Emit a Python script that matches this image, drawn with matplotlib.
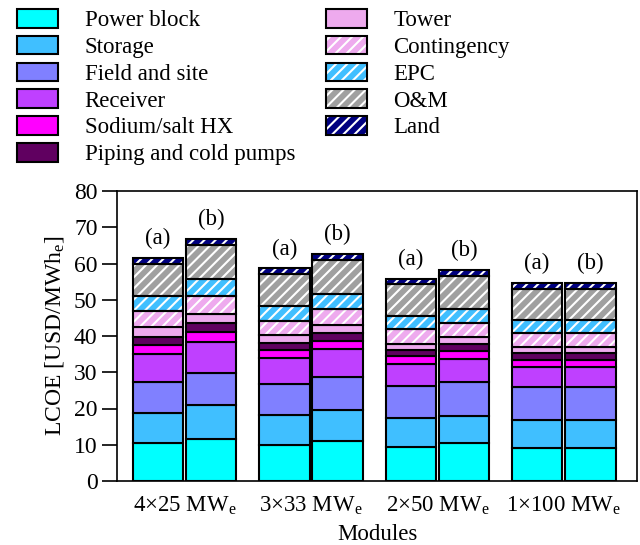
import matplotlib
matplotlib.use("Agg")
import matplotlib.pyplot as plt
from matplotlib.patches import Patch
import numpy as np

plt.rcParams['font.family'] = ['Liberation Serif', 'DejaVu Serif']
plt.rcParams['mathtext.fontset'] = 'custom'
plt.rcParams['mathtext.rm'] = 'Liberation Serif'
plt.rcParams['mathtext.it'] = 'Liberation Serif:italic'
plt.rcParams['hatch.linewidth'] = 1.5

groups = ['4×25 MW$_\\mathrm{e}$', '3×33 MW$_\\mathrm{e}$',
          '2×50 MW$_\\mathrm{e}$', '1×100 MW$_\\mathrm{e}$']
cases = ['(a)', '(b)']

# LCOE contributions [USD/MWh_e], order: (a), (b) for each module configuration
power_block = [10.5, 11.7, 9.9, 11.1, 9.5, 10.4, 9.1, 9.1]
storage     = [8.3, 9.2, 8.4, 8.4, 8.0, 7.5, 7.8, 7.8]
field_site  = [8.4, 8.9, 8.4, 9.1, 8.8, 9.3, 9.1, 9.1]
receiver    = [7.9, 8.6, 7.2, 7.7, 6.0, 6.4, 5.5, 5.5]
sodium_hx   = [2.4, 2.6, 2.3, 2.4, 2.1, 2.4, 2.0, 2.0]
piping      = [2.3, 2.5, 2.0, 2.2, 1.7, 1.7, 1.8, 1.8]
tower       = [2.7, 2.7, 2.0, 2.1, 1.8, 2.0, 1.7, 1.7]
contingency = [4.3, 4.9, 4.0, 4.5, 3.9, 3.9, 3.7, 3.7]
epc         = [4.1, 4.5, 4.0, 4.0, 3.6, 3.9, 3.7, 3.7]
om          = [8.9, 9.4, 8.8, 9.4, 8.9, 9.1, 8.7, 8.7]
land        = [1.8, 1.8, 1.7, 1.8, 1.5, 1.7, 1.6, 1.6]

components = [
    ('Power block', power_block, '#00FFFF', None),
    ('Storage', storage, '#40BFFF', None),
    ('Field and site', field_site, '#8080FF', None),
    ('Receiver', receiver, '#BF40FF', None),
    ('Sodium/salt HX', sodium_hx, '#FF00FF', None),
    ('Piping and cold pumps', piping, '#600060', None),
    ('Tower', tower, '#EEAAEE', None),
    ('Contingency', contingency, '#EEAAEE', '///'),
    ('EPC', epc, '#40BFFF', '///'),
    ('O&M', om, '#A0A0A0', '///'),
    ('Land', land, '#000080', '///'),
]

FS = 16.5

fig = plt.figure(figsize=(6.4, 5.45), dpi=100)
ax = fig.add_axes([117/640, 1-481/545, 520/640, 290/545])

width = 0.40
offset = 0.21
gx = np.arange(len(groups))
xpos = np.ravel(np.column_stack([gx - offset, gx + offset]))

edge_lw = 1.5
bottom = np.zeros(len(xpos))
handles = []
for name, vals, color, hatch in components:
    vals = np.array(vals)
    if hatch:
        ax.bar(xpos, vals, width, bottom=bottom, color=color,
               edgecolor='white', hatch=hatch, linewidth=0, zorder=2)
        ax.bar(xpos, vals, width, bottom=bottom, fill=False,
               edgecolor='black', linewidth=edge_lw, zorder=3)
        h = (Patch(facecolor=color, edgecolor='white', hatch=hatch, linewidth=0),
             Patch(facecolor='none', edgecolor='black', linewidth=edge_lw))
    else:
        ax.bar(xpos, vals, width, bottom=bottom, color=color,
               edgecolor='black', linewidth=edge_lw, zorder=2)
        h = Patch(facecolor=color, edgecolor='black', linewidth=edge_lw)
    handles.append(h)
    bottom = bottom + vals

for i, (x, top) in enumerate(zip(xpos, bottom)):
    ax.annotate(cases[i % 2], (x, top), xytext=(0, 6), textcoords='offset points',
                ha='center', va='bottom', fontsize=FS)

ax.set_xlim(-0.535, 3.58)
ax.set_ylim(0, 80)
ax.set_yticks(np.arange(0, 81, 10))
ax.set_xticks(gx)
ax.set_xticklabels(groups, fontsize=FS)
ax.tick_params(axis='x', length=0, pad=10)
ax.tick_params(axis='y', direction='out', length=11, width=1.2, labelsize=17, pad=3)
for s in ax.spines.values():
    s.set_linewidth(1.2)
ax.set_ylabel('LCOE [USD/MWh$_\\mathrm{e}$]', fontsize=17, labelpad=6)
ax.set_xlabel('Modules', fontsize=FS, labelpad=5)

labels = [c[0] for c in components]
fig.legend(handles, labels, loc='upper left', bbox_to_anchor=(17/640, 1-9/545),
           ncol=2, frameon=False, fontsize=FS, borderpad=0, borderaxespad=0,
           handlelength=1.8, handleheight=0.87, handletextpad=1.15,
           labelspacing=0.2, columnspacing=1.33)

fig.savefig('out.png', dpi=100)
